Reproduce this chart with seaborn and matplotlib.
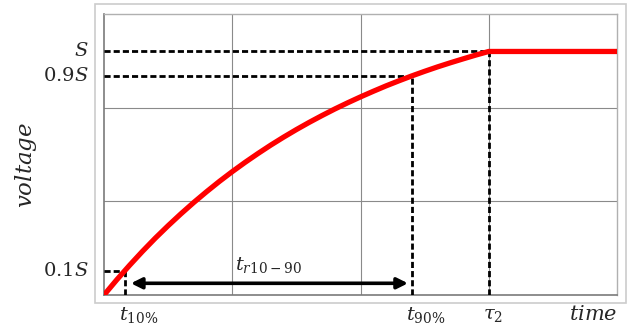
import matplotlib
matplotlib.use("Agg")
import matplotlib.pyplot as plt
import matplotlib.transforms as mtransforms
from matplotlib.patches import Rectangle
import seaborn as sns

sns.set_style("white")
plt.rcParams['mathtext.fontset'] = 'dejavuserif'
plt.rcParams['font.family'] = ['DejaVu Serif']

# curve (voltage in axis units, S = 2.6)
time_pts = [0, 0.1, 0.2, 0.3, 0.4, 0.5, 0.6, 0.7, 0.8, 0.9, 1.0,
            1.1, 1.2, 1.3, 1.4, 1.5, 1.6, 1.7, 1.8, 1.9, 2.0,
            2.1, 2.2, 2.3, 2.4, 2.5, 2.6, 2.7, 2.8, 2.9, 3.0, 4.0]
volt_pts = [0, 0.163, 0.318, 0.466, 0.607, 0.740, 0.867, 0.988, 1.103, 1.213, 1.317,
            1.416, 1.510, 1.600, 1.685, 1.766, 1.843, 1.916, 1.986, 2.052, 2.115,
            2.175, 2.233, 2.287, 2.339, 2.388, 2.435, 2.479, 2.521, 2.562, 2.600, 2.600]

# marker levels
level_vals = [2.6, 2.34, 0.26]
level_labels = ['$S$', '$0.9S$', '$0.1S$']
time_marks = [3.0, 2.40, 0.164]
time_labels = [r'$\tau_2$', r'$t_{90\%}$', r'$t_{10\%}$']

arrow_from = 0.21
arrow_to = 2.37
arrow_y = 0.125
rise_label = r'$t_{r10-90}$'

fig = plt.figure(figsize=(6.39, 3.30), dpi=100)
ax = fig.add_axes([104 / 639, 35 / 330, 513 / 639, 281 / 330])

# light outer frame
fig.patches.append(Rectangle((95 / 639, 27 / 330), 531 / 639, 299 / 330,
                             transform=fig.transFigure, fill=False,
                             edgecolor='#cccccc', lw=1.2, zorder=0))

ax.set_xlim(0, 4)
ax.set_ylim(0, 3)
ax.set_xticks([1, 2, 3])
ax.set_yticks([1, 2])
ax.grid(True, color='#8a8a8a', lw=0.8)
ax.tick_params(length=0, labelbottom=False, labelleft=False)
for side in ['left', 'bottom']:
    ax.spines[side].set_color('#7a7a7a')
    ax.spines[side].set_linewidth(1.2)
for side in ['top', 'right']:
    ax.spines[side].set_color('#b0b0b0')
    ax.spines[side].set_linewidth(1.0)

dash = dict(color='black', lw=2.0, dashes=(2.2, 1.1), zorder=3)
for lv, tm in zip(level_vals, time_marks):
    ax.plot([0, tm], [lv, lv], **dash)
    ax.plot([tm, tm], [0, lv], **dash)

sns.lineplot(x=time_pts, y=volt_pts, color='#ff0000', lw=3.8, ax=ax, zorder=4)

ax.annotate('', xy=(arrow_to, arrow_y), xytext=(arrow_from, arrow_y),
            arrowprops=dict(arrowstyle='<|-|>', color='black', lw=2.6,
                            mutation_scale=16, shrinkA=0, shrinkB=0), zorder=5)
ax.text((arrow_from + arrow_to) / 2 - 0.01, arrow_y + 0.2, rise_label,
        ha='center', va='center', fontsize=14)

for lv, lab in zip(level_vals, level_labels):
    ax.text(-0.12, lv, lab, ha='right', va='center', fontsize=14)

trans = mtransforms.offset_copy(ax.get_xaxis_transform(), fig=fig, x=-6, y=0, units='dots')
for tm, lab in zip(time_marks, time_labels):
    ax.text(tm, -0.07, lab, ha='left', va='center', fontsize=14, transform=trans)

ax.text(1.0, -0.07, '$time$', ha='right', va='center', fontsize=15,
        transform=ax.transAxes)
fig.text(26 / 639, 1 - 165 / 330, '$voltage$', rotation=90, ha='center',
         va='center', fontsize=16.5)

fig.savefig('out.png', dpi=100)
